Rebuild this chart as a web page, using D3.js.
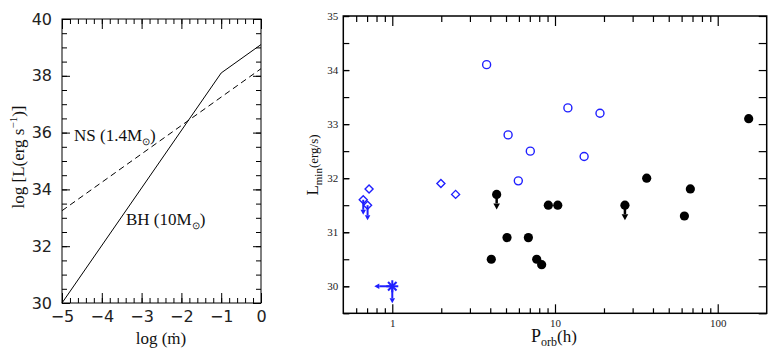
<!DOCTYPE html>
<html>
<head>
<meta charset="utf-8">
<script src="https://cdn.jsdelivr.net/npm/d3@7"></script>
<style>
  body { margin: 0; background: #fff; }
  svg { display: block; }
  text { font-family: "Liberation Serif", "Times New Roman", serif; }
</style>
</head>
<body>
<div id="chart"></div>
<script>
// left panel: L vs accretion rate
const mdotTicks = [-5, -4, -3, -2, -1, 0]
const lumTicks = [30, 32, 34, 36, 38, 40]
const bhLine = [[-5, 30], [-1, 38.1], [0, 39.1]]
const nsLine = [[-5, 33.25], [0, 38.25]]

// right panel: L_min vs P_orb   [P (h), L, upper limit?]
const porbTicks = [1, 10, 100]
const lminTicks = [30, 31, 32, 33, 34, 35]
const nsCircles = [[3.8, 34.1], [5.15, 32.8], [7.05, 32.5], [5.95, 31.95], [12, 33.3], [15.1, 32.4], [18.9, 33.2]]
const nsDiamonds = [[0.663, 31.6, true], [0.705, 31.5, true], [0.72, 31.8], [1.99, 31.9], [2.45, 31.7]]
const nsStar = [[1.0, 30.0]]
const bhPoints = [[4.06, 30.5], [5.07, 30.9], [6.86, 30.9], [7.72, 30.5], [8.28, 30.4], [4.38, 31.7, true],
  [9.1, 31.5], [10.4, 31.5], [26.9, 31.5, true], [36.6, 32.0], [62.4, 31.3], [67.9, 31.8], [155, 33.1]]

const width = 780
const height = 360
const blue = '#1f1fff'

const svg = d3.select('#chart')
  .append('svg')
  .attr('width', width)
  .attr('height', height)

svg.append('rect').attr('width', width).attr('height', height).attr('fill', '#fff')

// ---------- left panel ----------
const lx = d3.scaleLinear().domain([-5, 0]).range([62, 261])
const ly = d3.scaleLinear().domain([30, 40]).range([303, 19])
const left = svg.append('g')

const minorX = d3.range(-5, 0.001, 0.2).map(d => +d.toFixed(1))
const minorY = d3.range(30, 40.001, 0.5)

function clean (g) {
  g.select('.domain').remove()
  g.selectAll('line').attr('stroke', '#000').attr('stroke-width', 1)
}

left.append('g').attr('transform', `translate(0,${ly(30)})`)
  .call(d3.axisBottom(lx).tickValues(minorX).tickSize(-5).tickFormat(''))
  .call(clean)
left.append('g').attr('transform', `translate(0,${ly(30)})`)
  .call(d3.axisBottom(lx).tickValues(mdotTicks).tickSize(-10).tickPadding(8)
    .tickFormat(d => d < 0 ? '\u2212' + Math.abs(d) : d))
  .call(clean)
  .selectAll('text').attr('font-size', 16).attr('fill', '#222').style('font-family', 'DejaVu Sans')
left.append('g').attr('transform', `translate(0,${ly(40)})`)
  .call(d3.axisTop(lx).tickValues(minorX).tickSize(-5).tickFormat(''))
  .call(clean)
left.append('g').attr('transform', `translate(0,${ly(40)})`)
  .call(d3.axisTop(lx).tickValues(mdotTicks).tickSize(-10).tickFormat(''))
  .call(clean)

left.append('g').attr('transform', `translate(${lx(-5)},0)`)
  .call(d3.axisLeft(ly).tickValues(minorY).tickSize(-5).tickFormat(''))
  .call(clean)
left.append('g').attr('transform', `translate(${lx(-5)},0)`)
  .call(d3.axisLeft(ly).tickValues(lumTicks).tickSize(-8).tickPadding(10).tickFormat(d3.format('d')))
  .call(clean)
  .selectAll('text').attr('font-size', 16).attr('fill', '#222').style('font-family', 'DejaVu Sans')
left.append('g').attr('transform', `translate(${lx(0)},0)`)
  .call(d3.axisRight(ly).tickValues(minorY).tickSize(-5).tickFormat(''))
  .call(clean)
left.append('g').attr('transform', `translate(${lx(0)},0)`)
  .call(d3.axisRight(ly).tickValues(lumTicks).tickSize(-8).tickFormat(''))
  .call(clean)

left.append('rect')
  .attr('x', lx(-5)).attr('y', ly(40))
  .attr('width', lx(0) - lx(-5)).attr('height', ly(30) - ly(40))
  .attr('fill', 'none').attr('stroke', '#000').attr('stroke-width', 1)

const line = d3.line().x(d => lx(d[0])).y(d => ly(d[1]))
left.append('path').attr('d', line(bhLine))
  .attr('fill', 'none').attr('stroke', '#000').attr('stroke-width', 1)
left.append('path').attr('d', line(nsLine))
  .attr('fill', 'none').attr('stroke', '#000').attr('stroke-width', 1)
  .attr('stroke-dasharray', '6,4')

function massLabel (x, y, txt, mass) {
  const t = left.append('text').attr('x', x).attr('y', y).attr('font-size', 17).attr('fill', '#111')
  t.append('tspan').text(txt + ' (' + mass + 'M')
  t.append('tspan').attr('font-size', 10).attr('dy', 4).text('\u2299')
  t.append('tspan').attr('dy', -4).text(')')
}
massLabel(74, 141, 'NS', '1.4')
massLabel(126, 225, 'BH', '10')

const xl = left.append('text').attr('x', 161).attr('y', 344)
  .attr('text-anchor', 'middle').attr('font-size', 17).attr('fill', '#111')
xl.text('log (\u1E41)')

const yl = left.append('text').attr('transform', 'translate(24,157) rotate(-90)')
  .attr('text-anchor', 'middle').attr('font-size', 17).attr('fill', '#111')
yl.append('tspan').text('log [L(erg s')
yl.append('tspan').attr('font-size', 11).attr('dy', -7).text('\u22121')
yl.append('tspan').attr('dy', 7).text(')]')

// ---------- right panel ----------
const rx = d3.scaleLog().domain([0.5, 200]).range([343.3, 766.7])
const ry = d3.scaleLinear().domain([29.5, 35]).range([313.3, 16])
const right = svg.append('g')

const minorP = [0.6, 0.7, 0.8, 0.9, 2, 3, 4, 5, 6, 7, 8, 9, 20, 30, 40, 50, 60, 70, 80, 90]
const minorL = d3.range(29.5, 35.001, 0.5)

function cleanR (g) {
  g.select('.domain').remove()
  g.attr('font-family', null)
  g.selectAll('line').attr('stroke', '#000').attr('stroke-width', 1.2)
}

right.append('g').attr('transform', `translate(0,${ry(29.5)})`)
  .call(d3.axisBottom(rx).tickValues(minorP).tickSize(-5).tickFormat(''))
  .call(cleanR)
right.append('g').attr('transform', `translate(0,${ry(29.5)})`)
  .call(d3.axisBottom(rx).tickValues(porbTicks).tickSize(-9).tickPadding(6).tickFormat(d3.format('d')))
  .call(cleanR)
  .selectAll('text').attr('font-size', 11).attr('fill', '#222')
right.append('g').attr('transform', `translate(0,${ry(35)})`)
  .call(d3.axisTop(rx).tickValues(minorP).tickSize(-6).tickFormat(''))
  .call(cleanR)
right.append('g').attr('transform', `translate(0,${ry(35)})`)
  .call(d3.axisTop(rx).tickValues(porbTicks).tickSize(-10).tickFormat(''))
  .call(cleanR)

right.append('g').attr('transform', `translate(${rx(0.5)},0)`)
  .call(d3.axisLeft(ry).tickValues(minorL).tickSize(-6).tickFormat(''))
  .call(cleanR)
right.append('g').attr('transform', `translate(${rx(0.5)},0)`)
  .call(d3.axisLeft(ry).tickValues(lminTicks).tickSize(-6).tickPadding(5).tickFormat(d3.format('d')))
  .call(cleanR)
  .selectAll('text').attr('font-size', 11).attr('fill', '#222')
right.append('g').attr('transform', `translate(${rx(200)},0)`)
  .call(d3.axisRight(ry).tickValues(minorL).tickSize(-8).tickFormat(''))
  .call(cleanR)

right.append('rect')
  .attr('x', rx(0.5)).attr('y', ry(35))
  .attr('width', rx(200) - rx(0.5)).attr('height', ry(29.5) - ry(35))
  .attr('fill', 'none').attr('stroke', '#000').attr('stroke-width', 1.5)

function arrow (x1, y1, x2, y2, color, w, head) {
  const ang = Math.atan2(y2 - y1, x2 - x1)
  const bx = x2 - head * Math.cos(ang)
  const by = y2 - head * Math.sin(ang)
  right.append('line').attr('x1', x1).attr('y1', y1).attr('x2', bx).attr('y2', by)
    .attr('stroke', color).attr('stroke-width', w)
  const px = Math.sin(ang) * head * 0.55
  const py = -Math.cos(ang) * head * 0.55
  right.append('path')
    .attr('d', `M${x2},${y2}L${bx + px},${by + py}L${bx - px},${by - py}Z`)
    .attr('fill', color)
}

// upper-limit arrows drawn first
bhPoints.filter(d => d[2]).forEach(d => arrow(rx(d[0]), ry(d[1]), rx(d[0]), ry(d[1]) + 15, '#000', 2.5, 6))
nsDiamonds.filter(d => d[2]).forEach(d => arrow(rx(d[0]), ry(d[1]), rx(d[0]), ry(d[1]) + 15, blue, 2, 5))
nsStar.forEach(d => {
  arrow(rx(d[0]), ry(d[1]), rx(d[0]) - 18, ry(d[1]), blue, 2, 5)
  arrow(rx(d[0]), ry(d[1]), rx(d[0]), ry(d[1]) + 17, blue, 2, 5)
})

right.selectAll('.bh').data(bhPoints).enter().append('circle')
  .attr('cx', d => rx(d[0])).attr('cy', d => ry(d[1])).attr('r', 4.6)
  .attr('fill', '#000')

right.selectAll('.nsc').data(nsCircles).enter().append('circle')
  .attr('cx', d => rx(d[0])).attr('cy', d => ry(d[1])).attr('r', 4)
  .attr('fill', 'none').attr('stroke', blue).attr('stroke-width', 1.4)

right.selectAll('.nsd').data(nsDiamonds).enter().append('path')
  .attr('transform', d => `translate(${rx(d[0])},${ry(d[1])})`)
  .attr('d', 'M0,-4L4,0L0,4L-4,0Z')
  .attr('fill', 'none').attr('stroke', blue).attr('stroke-width', 1.4)

nsStar.forEach(d => {
  const g = right.append('g').attr('transform', `translate(${rx(d[0])},${ry(d[1])})`)
  ;[0, 45, 90, 135].forEach(a => {
    g.append('line').attr('x1', -6).attr('x2', 6).attr('y1', 0).attr('y2', 0)
      .attr('transform', `rotate(${a})`)
      .attr('stroke', blue).attr('stroke-width', 2)
  })
})

const px = right.append('text').attr('x', 531).attr('y', 342).attr('fill', '#111')
px.append('tspan').attr('font-size', 18).text('P')
px.append('tspan').attr('font-size', 12).attr('dy', 4).text('orb')
px.append('tspan').attr('font-size', 17).attr('dy', -4).text('(h)')

const py = right.append('text').attr('transform', 'translate(318,165) rotate(-90)')
  .attr('text-anchor', 'middle').attr('fill', '#111')
py.append('tspan').attr('font-size', 17).text('L')
py.append('tspan').attr('font-size', 11).attr('dy', 4).text('min')
py.append('tspan').attr('font-size', 13).attr('dy', -4).text('(erg/s)')
</script>
</body>
</html>
